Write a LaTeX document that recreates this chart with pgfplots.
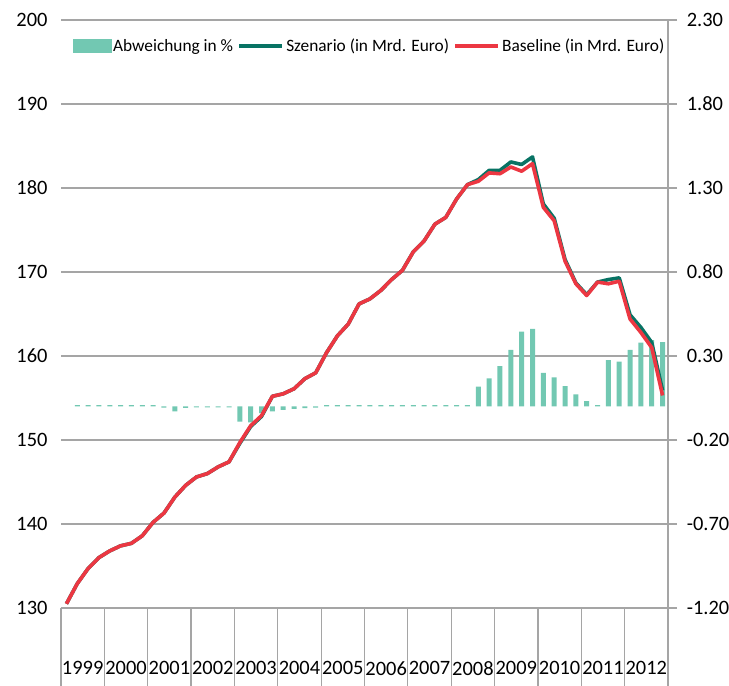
\documentclass[border=0pt]{standalone}
\usepackage{pgfplots}
\pgfplotsset{compat=1.18}
\usepackage{pgfplotstable}
\usepackage{fontspec}
\setmainfont{Carlito}
\definecolor{barcol}{RGB}{114,200,178}
\definecolor{scencol}{RGB}{8,115,100}
\definecolor{basecol}{RGB}{236,55,66}
\definecolor{gridgray}{RGB}{165,165,165}
\pgfplotsset{
  linelegend/.style={legend image code/.code={\draw[##1] (0bp,0bp) -- (43bp,0bp);}},
  barlegend/.style={legend image code/.code={\fill[barcol] (0bp,-6.5bp) rectangle (38bp,6.5bp);}},
}

\pgfplotstableread{
i base scen dev
0 130.5 130.5 nan
1 132.9 132.9 0.007
2 134.7 134.7 0.007
3 136.0 136.0 0.007
4 136.8 136.8 0.007
5 137.4 137.4 0.007
6 137.7 137.7 0.007
7 138.6 138.6 0.007
8 140.2 140.2 0.007
9 141.3 141.3 -0.008
10 143.2 143.2 -0.03
11 144.6 144.6 -0.009
12 145.6 145.6 -0.006
13 146.0 146.0 -0.006
14 146.8 146.8 -0.006
15 147.4 147.4 -0.006
16 149.7 149.6 -0.09
17 151.7 151.6 -0.095
18 152.9 152.8 -0.04
19 155.2 155.2 -0.03
20 155.5 155.5 -0.02
21 156.1 156.1 -0.015
22 157.3 157.3 -0.01
23 158.0 158.0 -0.008
24 160.4 160.4 0.007
25 162.4 162.4 0.007
26 163.8 163.8 0.007
27 166.2 166.2 0.007
28 166.8 166.8 0.007
29 167.8 167.8 0.007
30 169.1 169.1 0.007
31 170.2 170.2 0.007
32 172.4 172.4 0.007
33 173.7 173.7 0.007
34 175.7 175.7 0.007
35 176.5 176.5 0.007
36 178.7 178.7 0.007
37 180.4 180.4 0.007
38 180.8 181.0 0.117
39 181.8 182.1 0.167
40 181.7 182.1 0.240
41 182.5 183.1 0.336
42 182.0 182.8 0.445
43 182.9 183.7 0.461
44 177.7 178.1 0.200
45 176.1 176.4 0.173
46 171.3 171.5 0.121
47 168.6 168.7 0.072
48 167.2 167.3 0.032
49 168.8 168.8 0.008
50 168.6 169.1 0.276
51 168.9 169.3 0.266
52 164.4 164.9 0.336
53 162.8 163.4 0.379
54 161.0 161.6 0.395
55 155.3 155.9 0.383
}\datatable

\begin{document}
\begin{tikzpicture}
% bars axis (right scale)
\begin{axis}[
  at={(61bp,78bp)}, anchor=south west,
  width=607bp, height=588bp, scale only axis,
  xmin=-0.5, xmax=55.5, ymin=-1.2, ymax=2.3,
  axis x line*=bottom, axis y line*=right,
  xtick={-0.5,3.5,7.5,11.5,15.5,19.5,23.5,27.5,31.5,35.5,39.5,43.5,47.5,51.5,55.5},
  xticklabels={},
  ytick={-1.2,-0.7,-0.2,0.3,0.8,1.3,1.8,2.3},
  yticklabels={-1.20,-0.70,-0.20,0.30,0.80,1.30,1.80,2.30},
  ymajorgrids, grid style={gridgray, line width=1.2bp},
  axis line style={gridgray, line width=1.2bp},
  tick align=outside,
  xtick style={gridgray, line width=1.2bp, /pgfplots/major tick length=78bp},
  ytick style={gridgray, line width=1.2bp, /pgfplots/major tick length=9bp},
  tick label style={font=\fontsize{20.5}{24}\selectfont, text=black},
  yticklabel style={xshift=11bp},
  ybar, bar width=5bp,
]
\addplot[fill=barcol, draw=none] table[x=i, y=dev] {\datatable};
\end{axis}
% lines axis (left scale)
\begin{axis}[
  at={(61bp,78bp)}, anchor=south west,
  width=607bp, height=588bp, scale only axis,
  xmin=-0.5, xmax=55.5, ymin=130, ymax=200,
  axis x line*=bottom, axis y line*=left,
  axis line style={draw=none},
  major tick length=0pt,
  /pgf/number format/assume math mode=true,
  xtick={-0.5,3.5,7.5,11.5,15.5,19.5,23.5,27.5,31.5,35.5,39.5,43.5,47.5,51.5,55.5},
  xticklabels={1999,2000,2001,2002,2003,2004,2005,2006,2007,2008,2009,2010,2011,2012},
  x tick label as interval,
  ytick={130,140,150,160,170,180,190,200},
  tick label style={font=\fontsize{20.5}{24}\selectfont, text=black},
  xticklabel style={yshift=-50bp},
  yticklabel style={xshift=-10bp},
  legend style={at={(rel axis cs:1.0,0.956)}, anchor=east, draw=none, fill=none,
    font=\fontsize{17.4}{21}\selectfont, legend columns=3,
    nodes={inner xsep=0.5bp},
    /tikz/every odd column/.append style={column sep=1.5bp},
    /tikz/every even column/.append style={column sep=4bp}},
  legend cell align=left,
]
\addlegendimage{barlegend}
\addlegendentry{Abweichung in \%}
\addplot[scencol, line width=3.6bp, line join=round, linelegend] table[x=i, y=scen] {\datatable};
\addlegendentry{Szenario (in Mrd. Euro)}
\addplot[basecol, line width=3.6bp, line join=round, linelegend] table[x=i, y=base] {\datatable};
\addlegendentry{Baseline (in Mrd. Euro)}
\end{axis}
\pgfresetboundingbox
\path[use as bounding box] (0,0) rectangle (729bp,686bp);
\end{tikzpicture}
\end{document}
